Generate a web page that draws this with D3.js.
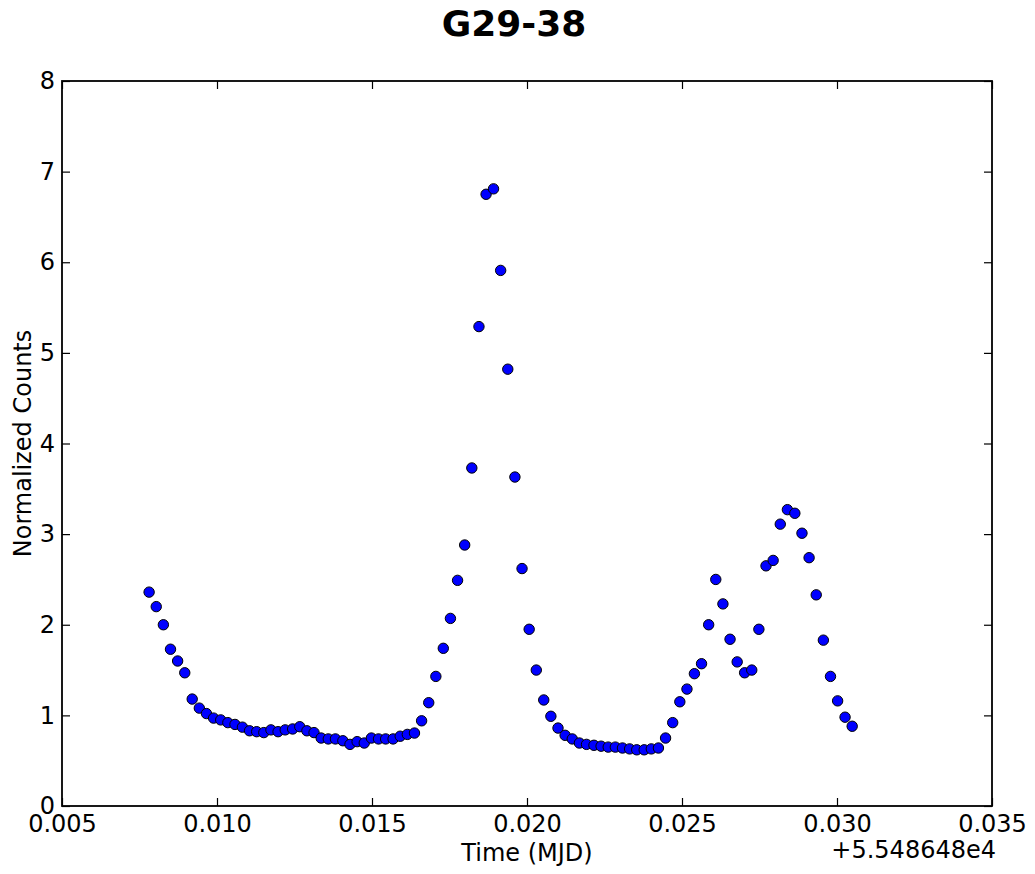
<!DOCTYPE html>
<html>
<head>
<meta charset="utf-8">
<script src="https://cdn.jsdelivr.net/npm/d3@7"></script>
<style>
    body { margin: 0; background: #fff; }
    svg { display: block; font-family: "DejaVu Sans", sans-serif; }
    .tick text { font-size: 24px; fill: #000; }
    .tick line { stroke: #000; stroke-width: 1.2; }
</style>
</head>
<body>
<svg id="chart-svg" width="1035" height="874"></svg>
<script>
// time offsets (MJD - 55486.48)
const times = [
    0.00781, 0.00804, 0.00827, 0.00850, 0.00873, 0.00896, 0.00920, 0.00943, 0.00966, 0.00989,
    0.01012, 0.01035, 0.01058, 0.01082, 0.01105, 0.01128, 0.01151, 0.01174, 0.01197, 0.01220,
    0.01244, 0.01267, 0.01290, 0.01313, 0.01336, 0.01359, 0.01382, 0.01406, 0.01429, 0.01452,
    0.01475, 0.01498, 0.01521, 0.01544, 0.01568, 0.01591, 0.01614, 0.01637, 0.01660, 0.01683,
    0.01706, 0.01730, 0.01753, 0.01776, 0.01799, 0.01822, 0.01845, 0.01868, 0.01892, 0.01915,
    0.01938, 0.01961, 0.01984, 0.02007, 0.02030, 0.02054, 0.02077, 0.02100, 0.02123, 0.02146,
    0.02169, 0.02192, 0.02216, 0.02239, 0.02262, 0.02285, 0.02308, 0.02331, 0.02354, 0.02378,
    0.02401, 0.02424, 0.02447, 0.02470, 0.02493, 0.02516, 0.02540, 0.02563, 0.02586, 0.02609,
    0.02632, 0.02655, 0.02678, 0.02702, 0.02725, 0.02748, 0.02771, 0.02794, 0.02817, 0.02840,
    0.02864, 0.02887, 0.02910, 0.02933, 0.02956, 0.02979, 0.03002, 0.03026, 0.03049
]
const counts = [
    2.36, 2.20, 2.00, 1.73, 1.60, 1.47, 1.18, 1.08, 1.02, 0.97,
    0.95, 0.92, 0.90, 0.87, 0.83, 0.82, 0.81, 0.84, 0.82, 0.84,
    0.85, 0.875, 0.83, 0.81, 0.75, 0.74, 0.74, 0.72, 0.68, 0.71,
    0.695, 0.75, 0.74, 0.74, 0.74, 0.77, 0.79, 0.805, 0.94, 1.14,
    1.43, 1.74, 2.07, 2.49, 2.88, 3.73, 5.29, 6.75, 6.81, 5.91,
    4.82, 3.63, 2.62, 1.95, 1.50, 1.17, 0.99, 0.86, 0.78, 0.74,
    0.695, 0.68, 0.67, 0.66, 0.65, 0.65, 0.64, 0.63, 0.62, 0.62,
    0.63, 0.64, 0.75, 0.92, 1.15, 1.29, 1.46, 1.57, 2.00, 2.50,
    2.23, 1.84, 1.59, 1.47, 1.50, 1.95, 2.65, 2.71, 3.11, 3.27,
    3.23, 3.01, 2.74, 2.33, 1.83, 1.43, 1.16, 0.98, 0.88
]
const xTicks = [0.005, 0.010, 0.015, 0.020, 0.025, 0.030, 0.035]
const yTicks = [0, 1, 2, 3, 4, 5, 6, 7, 8]

const data = times.map((t, i) => ({ t: t, c: counts[i] }))

const svg = d3.select("#chart-svg");

const box = {
    left: 62,
    right: 992,
    top: 81,
    bottom: 806,
}

const scale = {
    x: d3.scaleLinear([0.005, 0.035], [box.left, box.right]),
    y: d3.scaleLinear([0, 8], [box.bottom, box.top]),
}

const tickLen = 8;

const axis = {
    bottom: svg.append("g")
        .attr("transform", `translate(0, ${box.bottom})`)
        .call(d3.axisBottom(scale.x).tickValues(xTicks).tickFormat(d3.format(".3f"))
            .tickSizeInner(-tickLen).tickSizeOuter(0).tickPadding(9)),
    top: svg.append("g")
        .attr("transform", `translate(0, ${box.top})`)
        .call(d3.axisTop(scale.x).tickValues(xTicks).tickFormat("")
            .tickSizeInner(-tickLen).tickSizeOuter(0)),
    left: svg.append("g")
        .attr("transform", `translate(${box.left}, 0)`)
        .call(d3.axisLeft(scale.y).tickValues(yTicks).tickFormat(d3.format("d"))
            .tickSizeInner(-tickLen).tickSizeOuter(0).tickPadding(7)),
    right: svg.append("g")
        .attr("transform", `translate(${box.right}, 0)`)
        .call(d3.axisRight(scale.y).tickValues(yTicks).tickFormat("")
            .tickSizeInner(-tickLen).tickSizeOuter(0)),
}
Object.values(axis).forEach(a => {
    a.attr("font-family", null).attr("font-size", null);
    a.select(".domain").remove();
});

svg.append("g")
    .selectAll("circle")
    .data(data)
    .enter()
    .append("circle")
    .attr("cx", d => scale.x(d.t))
    .attr("cy", d => scale.y(d.c))
    .attr("r", 5.2)
    .attr("fill", "#0000ff")
    .attr("stroke", "#000")
    .attr("stroke-width", 1);

// frame
svg.append("rect")
    .attr("x", box.left)
    .attr("y", box.top)
    .attr("width", box.right - box.left)
    .attr("height", box.bottom - box.top)
    .attr("fill", "none")
    .attr("stroke", "#000")
    .attr("stroke-width", 1.8);

svg.append("text")
    .attr("x", 514)
    .attr("y", 36)
    .attr("text-anchor", "middle")
    .attr("font-size", 36)
    .attr("font-weight", "bold")
    .text("G29-38");

svg.append("text")
    .attr("x", (box.left + box.right) / 2)
    .attr("y", 861)
    .attr("text-anchor", "middle")
    .attr("font-size", 24)
    .text("Time (MJD)");

svg.append("text")
    .attr("x", 996)
    .attr("y", 858)
    .attr("text-anchor", "end")
    .attr("font-size", 24)
    .text("+5.548648e4");

svg.append("text")
    .attr("transform", `translate(31, ${(box.top + box.bottom) / 2}) rotate(-90)`)
    .attr("text-anchor", "middle")
    .attr("font-size", 24)
    .text("Normalized Counts");
</script>
</body>
</html>
